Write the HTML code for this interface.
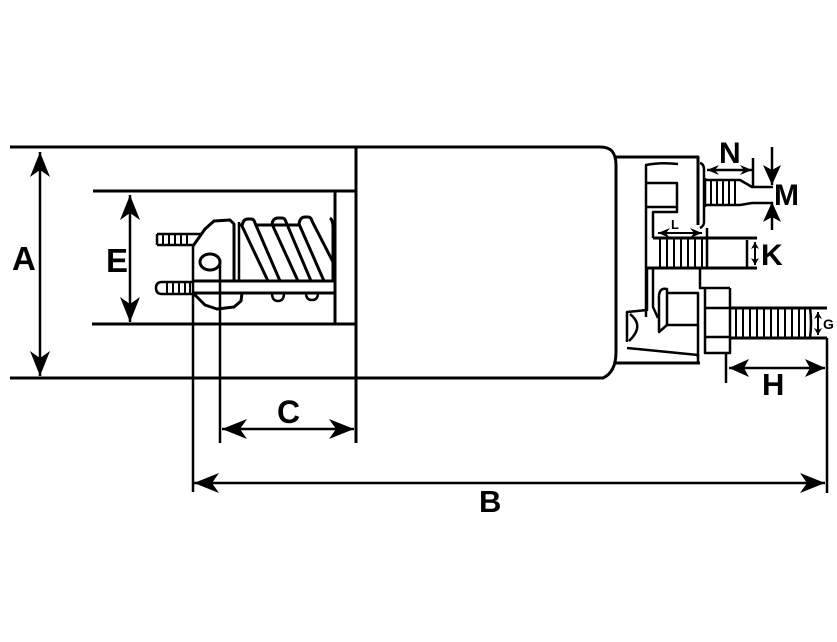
<!DOCTYPE html>
<html><head><meta charset="utf-8"><style>
html,body{margin:0;padding:0;background:#fff;}
svg{display:block;}
text{font-family:"Liberation Sans",Arial,sans-serif;font-weight:bold;fill:#000;}
</style></head><body>
<svg width="837" height="642" viewBox="0 0 837 642" xmlns="http://www.w3.org/2000/svg">
<defs>
<marker id="big" markerUnits="userSpaceOnUse" viewBox="-26 -11 27 22" markerWidth="27" markerHeight="22" refX="0" refY="0" orient="auto-start-reverse"><path d="M0,0 L-25,-10 L-18,0 L-25,10Z" fill="#000"/></marker>
<marker id="med" markerUnits="userSpaceOnUse" viewBox="-22 -10 23 20" markerWidth="23" markerHeight="20" refX="0" refY="0" orient="auto-start-reverse"><path d="M0,0 L-20,-9 L-15,0 L-20,9Z" fill="#000"/></marker>
<marker id="sm" markerUnits="userSpaceOnUse" viewBox="-14 -6 15 12" markerWidth="15" markerHeight="12" refX="0" refY="0" orient="auto-start-reverse"><path d="M0,0 L-12,-5 L-8,0 L-12,5Z" fill="#000"/></marker>
<marker id="tiny" markerUnits="userSpaceOnUse" viewBox="-8 -5 9 10" markerWidth="9" markerHeight="10" refX="0" refY="0" orient="auto-start-reverse"><path d="M0,0 L-7,-4 L-5,0 L-7,4Z" fill="#000"/></marker>
</defs>

<g fill="none" stroke="#000" stroke-width="3" stroke-linejoin="round">
<!-- main body -->
<path d="M10 147 H600 Q608 147 612 151 Q616 156 616 165 V352 Q616 372 603 378 H10"/>
<path d="M356 147 V443"/>
<!-- inner box -->
<path d="M93 191 H356 M92 324 H356 M335 191 V324"/>

<!-- plunger: studs -->
<path d="M157 234 H201 M157 245 H193 M157 234 V245" stroke-width="2.5"/>
<path d="M163 234 V245 M169 234 V245 M175 234 V245 M181 234 V245 M187 234 V245" stroke-width="2"/>
<path d="M193 282 H162 Q156 282 156 288 Q156 294 162 294 H193" stroke-width="2.5"/>
<path d="M167 282 V294 M173 282 V294 M179 282 V294 M185 282 V294 M190 282 V294" stroke-width="2"/>
<!-- clevis -->
<path d="M193 246 L205 229 L214 221 L230 220 L234 224 V281"/>
<path d="M193 246 V492" stroke-width="2.5"/>
<path d="M193 293 L205 305 L217 309 L234 307 L241 301 L242 293"/>
<path d="M239 222 V281" stroke-width="2.5"/>
<ellipse cx="210" cy="262" rx="10" ry="8"/>
<path d="M220 262 V443" stroke-width="2.5"/>
<!-- rod -->
<path d="M193 281 H334 M193 293 H334"/>
<!-- spring -->
<path d="M239 225 H300"/>
<path d="M242 226 Q243 219 248 219 H251 Q254 219 255 223 L280 281 M242 226 L268 281" fill="#fff"/>
<path d="M272 224 Q273 218 278 218 H282 Q285 218 286 222 L311 281 M272 224 L298 281"/>
<path d="M299 224 Q300 217 305 217 H308 Q311 217 312 221 L333 262 M299 224 L324 281"/>
<path d="M333 281 V228 Q333 220 330 218"/>
<path d="M272 293 Q272 301 278 301 Q284 301 284 293 M306 293 Q306 300 312 300 Q318 300 318 293" stroke-width="2.5"/>

<!-- cap -->
<path d="M615 157 H698 V225"/>
<path d="M700 163 Q704 164 704 170 V222 Q704 226 700 228" stroke-width="2.5"/>
<path d="M646 317 V165 Q660 162 678 164" stroke-width="2.5"/>
<path d="M647 183 H677 V212 H653 V238 M647 207 H677" stroke-width="2.5"/>
<!-- K stud -->
<path d="M653 238 H757 M647 268 H757"/>
<path d="M660 238 V268 M667 238 V268 M674 238 V268 M681 238 V268 M688 238 V268 M695 238 V268 M702 238 V268" stroke-width="2"/>
<path d="M707 228 V268 M747 240 V268" stroke-width="2.5"/>
<!-- lower inner -->
<path d="M653 268 V307 L658 318" stroke-width="2.5"/>
<path d="M647 268 V310 L627 312 V342" stroke-width="2.5"/>
<path d="M630 314 Q645 326 629 341" stroke-width="2.5"/>
<path d="M627 348 L698 355 V363" stroke-width="2.5"/>
<path d="M615 363 H700"/>
<path d="M667 293 H698 V325 H667 M667 289 Q658 287 659 300 V332 L667 325 Z" stroke-width="2.5"/>
<path d="M700 268 V288 H730 M698 325 V358" stroke-width="2.5"/>
<!-- hex nut -->
<path d="M705 288 V353 H730 V288 M705 308 H730 M705 337 H730" stroke-width="2.5"/>
<!-- lower stud -->
<path d="M730 308 H827 M730 338 H827"/>
<path d="M810 308 Q812 323 810 338" stroke-width="2.5"/>
<path d="M736 308 V338 M743 308 V338 M750 308 V338 M757 308 V338 M764 308 V338 M771 308 V338 M778 308 V338 M785 308 V338 M792 308 V338 M799 308 V338 M805 308 V338" stroke-width="2"/>
<!-- upper stud -->
<path d="M705 178 V207" stroke-width="2.5"/>
<path d="M705 180 H740 L752 187 H773 M705 205 H740 L752 203 H773" stroke-width="2.5"/>
<path d="M711 180 V205 M717 180 V205 M723 180 V205 M729 180 V205 M735 180 V205" stroke-width="2"/>
<path d="M753 158 V187" stroke-width="2.5"/>

<!-- extension lines -->
<path d="M827 338 V493 M726 353 V383" stroke-width="2.5"/>
</g>

<!-- dimension arrows -->
<g stroke="#000" fill="none" stroke-width="2.5">
<line x1="40" y1="152" x2="40" y2="376" marker-start="url(#big)" marker-end="url(#big)"/>
<line x1="130" y1="195" x2="130" y2="322" marker-start="url(#big)" marker-end="url(#big)"/>
<line x1="222" y1="429" x2="354" y2="429" marker-start="url(#big)" marker-end="url(#big)"/>
<line x1="194" y1="483" x2="825" y2="483" marker-start="url(#big)" marker-end="url(#big)"/>
<line x1="729" y1="368" x2="825" y2="368" marker-start="url(#med)" marker-end="url(#med)"/>
<line x1="707" y1="170" x2="752" y2="170" marker-start="url(#sm)" marker-end="url(#sm)"/>
<line x1="658" y1="233" x2="702" y2="233" stroke-width="2" marker-start="url(#sm)" marker-end="url(#sm)"/>
<line x1="772" y1="147" x2="772" y2="185" marker-end="url(#med)"/>
<line x1="772" y1="230" x2="772" y2="202" marker-end="url(#med)"/>
<line x1="755" y1="242" x2="755" y2="265" stroke-width="2" marker-start="url(#tiny)" marker-end="url(#tiny)"/>
<line x1="818" y1="312" x2="818" y2="335" stroke-width="2" marker-start="url(#tiny)" marker-end="url(#tiny)"/>
</g>

<!-- labels -->
<text x="12" y="270" font-size="33">A</text>
<text x="106" y="272" font-size="33">E</text>
<text x="277" y="423" font-size="32">C</text>
<text x="479" y="512" font-size="31">B</text>
<text x="719" y="163" font-size="30">N</text>
<text x="774" y="205" font-size="30">M</text>
<text x="761" y="265" font-size="30">K</text>
<text x="762" y="395" font-size="31">H</text>
<text x="823" y="329" font-size="14">G</text>
<text x="671" y="229" font-size="13">L</text>
</svg>
</body></html>
